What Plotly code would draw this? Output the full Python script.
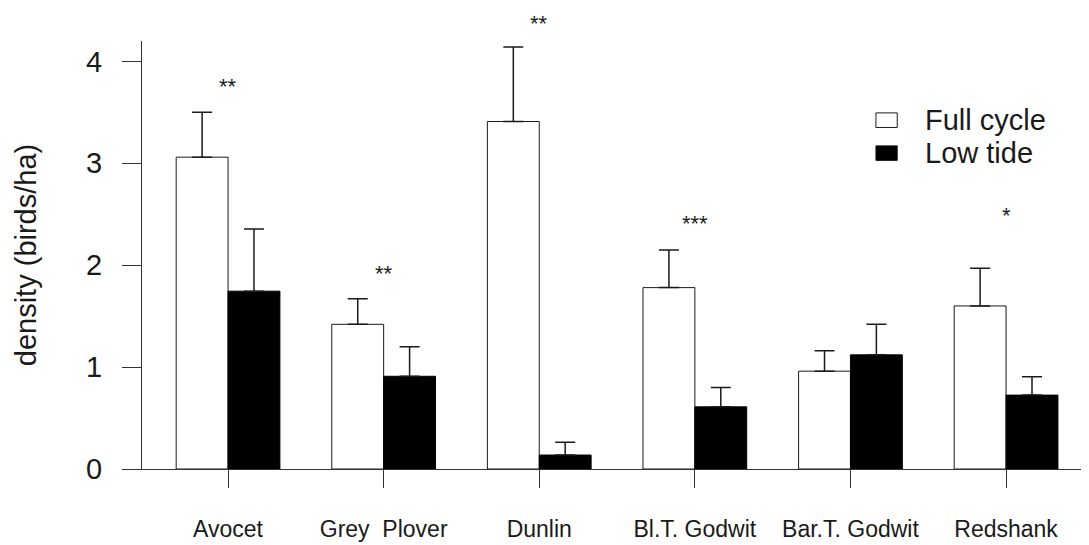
import plotly.graph_objects as go

species = ["Avocet", "Grey  Plover", "Dunlin", "Bl.T. Godwit", "Bar.T. Godwit", "Redshank"]
full_cycle = [3.06, 1.42, 3.41, 1.78, 0.96, 1.60]
full_cycle_err = [0.44, 0.25, 0.73, 0.37, 0.20, 0.37]
low_tide = [1.745, 0.91, 0.137, 0.61, 1.12, 0.725]
low_tide_err = [0.61, 0.29, 0.125, 0.19, 0.30, 0.18]
signif = ["**", "**", "**", "***", "", "*"]
signif_y = [3.75, 1.92, 4.37, 2.41, 0, 2.49]
yticks = [0, 1, 2, 3, 4]
series_names = ["Full cycle", "Low tide"]
series_colors = ["white", "black"]

YMAX = 4.2
xpos = list(range(len(species)))
FONT = "Liberation Sans, Arial, Helvetica, sans-serif"
INK = "#1a1a1a"
AX = "#333333"

fig = go.Figure()
fig.add_trace(go.Bar(
    x=xpos, y=full_cycle, name=series_names[0], showlegend=False,
    marker=dict(color=series_colors[0], line=dict(color=INK, width=1)),
    error_y=dict(type="data", array=full_cycle_err, arrayminus=[0] * len(species),
                 symmetric=False, color=INK, thickness=1.5, width=10),
))
fig.add_trace(go.Bar(
    x=xpos, y=low_tide, name=series_names[1], showlegend=False,
    marker=dict(color=series_colors[1], line=dict(color="black", width=1)),
    error_y=dict(type="data", array=low_tide_err, arrayminus=[0] * len(species),
                 symmetric=False, color=INK, thickness=1.5, width=10),
))

# significance stars (paper y so the one above the axis top is still shown)
for i, s in enumerate(signif):
    if s:
        fig.add_annotation(x=xpos[i], y=signif_y[i] / YMAX, text=s, showarrow=False,
                           xref="x", yref="paper", yanchor="middle",
                           font=dict(family=FONT, size=22, color=INK))

# legend drawn by hand (swatch + text)
leg_y = [0.815, 0.738]
for name, col, ly in zip(series_names, series_colors, leg_y):
    fig.add_shape(type="rect", xref="paper", yref="paper",
                  x0=0.7750, x1=0.7975, y0=ly - 0.017, y1=ly + 0.017,
                  fillcolor=col, line=dict(color=INK, width=1))
    fig.add_annotation(x=0.8245, y=ly, xref="paper", yref="paper", text=name,
                       showarrow=False, xanchor="left", yanchor="middle",
                       font=dict(family=FONT, size=29, color=INK))

# the page body adds an 8px offset, so the figure is laid out 8px smaller
fig.update_layout(
    width=1081, height=537,
    margin=dict(l=134, r=0, t=33, b=76),
    paper_bgcolor="white", plot_bgcolor="white",
    barmode="group", bargap=1/3, bargroupgap=0,
    font=dict(family=FONT, color=INK),
    showlegend=False,
    xaxis=dict(range=[-0.553, 5.533], tickmode="array", tickvals=xpos, ticktext=species,
               automargin=False,
               showgrid=False, zeroline=False, showline=True, linecolor=AX, linewidth=1,
               ticks="outside", ticklen=18, tickcolor=AX, tickwidth=1,
               ticklabelstandoff=21,
               tickfont=dict(family=FONT, size=23, color=INK)),
    yaxis=dict(range=[0, YMAX], tickmode="array", tickvals=yticks,
               automargin=False,
               showgrid=False, zeroline=False, showline=True, linecolor=AX, linewidth=1,
               ticks="outside", ticklen=19, tickcolor=AX, tickwidth=1,
               ticklabelstandoff=14,
               tickfont=dict(family=FONT, size=29, color=INK),
               title=dict(text="density (birds/ha)", standoff=40,
                          font=dict(family=FONT, size=29, color=INK))),
)

fig.write_html("out.html")
